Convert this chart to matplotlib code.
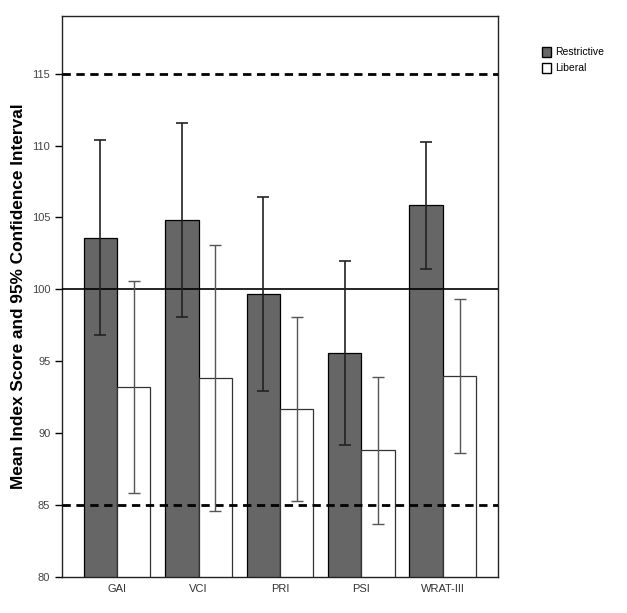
import numpy as np
import matplotlib
matplotlib.use("Agg")
from matplotlib import pyplot as plt
from matplotlib.patches import Patch

plt.rcParams["font.family"] = ["Liberation Sans", "DejaVu Sans"]

categories = ["GAI", "VCI", "PRI", "PSI", "WRAT-III"]
restrictive = [103.6, 104.8, 99.7, 95.55, 105.85]
restrictive_ci = [6.8, 6.75, 6.75, 6.4, 4.4]
liberal = [93.2, 93.85, 91.7, 88.8, 93.95]
liberal_ci = [7.35, 9.25, 6.4, 5.1, 5.35]
ref_lines = [115, 85]
yticks = [80, 85, 90, 95, 100, 105, 110, 115]

fig = plt.figure(figsize=(6.27, 6.13), dpi=100)
ax = fig.add_axes([0.099, 0.0587, 0.695, 0.915])

x = np.arange(len(categories))
w = 0.41

ax.bar(x - w/2, restrictive, w, color="#666666", edgecolor="black", linewidth=0.9, zorder=2)
ax.bar(x + w/2, liberal, w, color="white", edgecolor="#333333", linewidth=0.9, zorder=2)

ax.errorbar(x - w/2, restrictive, yerr=restrictive_ci, fmt="none", ecolor="#222222",
            elinewidth=1.2, capsize=4, capthick=1.2, zorder=4)
ax.errorbar(x + w/2, liberal, yerr=liberal_ci, fmt="none", ecolor="#555555",
            elinewidth=1.0, capsize=4, capthick=1.0, zorder=4)

# reference lines
ax.axhline(100, color="black", linewidth=1.2, zorder=3)
for v in ref_lines:
    ax.axhline(v, color="black", linewidth=2.0, linestyle=(0, (3, 2)), zorder=3)

ax.set_ylim(80, 119)
ax.set_xlim(-0.675, len(categories) - 1 + 0.675)
ax.set_yticks(yticks)
ax.set_yticklabels([str(t) for t in yticks], fontsize=8, color="#444444")
ax.set_xticks(x)
ax.set_xticklabels(categories, fontsize=8, color="#333333")
ax.tick_params(axis="y", direction="out", length=5, width=1)
ax.tick_params(axis="x", direction="out", length=0, pad=5)
for s in ax.spines.values():
    s.set_linewidth(1.0)
    s.set_color("#222222")

ax.set_ylabel("Mean Index Score and 95% Confidence Interval", fontsize=12.4,
              fontweight="bold", labelpad=4)

handles = [Patch(facecolor="#666666", edgecolor="black", label="Restrictive"),
           Patch(facecolor="white", edgecolor="black", label="Liberal")]
fig.legend(handles=handles, loc="upper left", bbox_to_anchor=(0.856, 0.932),
           frameon=False, fontsize=7.5, handlelength=0.9, handleheight=1.1,
           handletextpad=0.4, labelspacing=0.5, borderpad=0)

fig.savefig("out.png", dpi=100)
